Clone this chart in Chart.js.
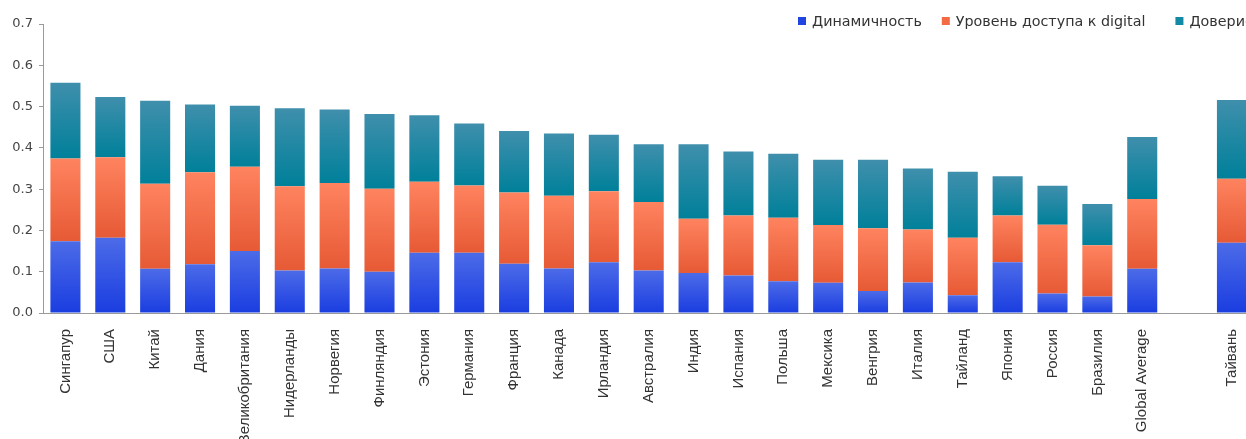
<!DOCTYPE html>
<html><head><meta charset="utf-8">
<script src="https://cdn.jsdelivr.net/npm/chart.js@4.4.1/dist/chart.umd.min.js"></script>
<style>html,body{margin:0;padding:0;overflow:hidden;background:#fff;width:1246px;height:439px}canvas{display:block}</style>
</head><body>
<canvas id="c" width="1258" height="439"></canvas>
<script>
const categories = ["Сингапур","США","Китай","Дания","Великобритания","Нидерланды","Норвегия","Финляндия","Эстония","Германия","Франция","Канада","Ирландия","Австралия","Индия","Испания","Польша","Мексика","Венгрия","Италия","Тайланд","Япония","Россия","Бразилия","Global Average","","Тайвань"];
const seriesNames = ["Динамичность","Уровень доступа к digital","Доверие"];
const dynamism = [0.174,0.182,0.107,0.118,0.150,0.103,0.108,0.100,0.146,0.146,0.119,0.108,0.123,0.103,0.097,0.091,0.077,0.073,0.053,0.074,0.043,0.123,0.047,0.040,0.107,null,0.170];
const access   = [0.200,0.195,0.206,0.223,0.204,0.204,0.207,0.201,0.172,0.163,0.173,0.176,0.172,0.166,0.131,0.145,0.154,0.140,0.152,0.128,0.139,0.113,0.167,0.124,0.169,null,0.155];
const trust    = [0.184,0.146,0.201,0.164,0.148,0.189,0.178,0.181,0.161,0.150,0.149,0.151,0.137,0.140,0.181,0.155,0.155,0.158,0.166,0.148,0.160,0.095,0.094,0.100,0.150,null,0.191];
const yTickValues = [0.0,0.1,0.2,0.3,0.4,0.5,0.6,0.7];

const seriesData = [dynamism, access, trust];
const palette = [
  {top:'#4c6be8', bottom:'#1a3de0', legend:'#2146e0'},
  {top:'#ff835f', bottom:'#e65a35', legend:'#f36a45'},
  {top:'#3f8fac', bottom:'#00809a', legend:'#138aa5'}
];

function gradientFill(si) {
  return function(ctx) {
    const c = palette[si];
    const chart = ctx.chart;
    if (!chart.chartArea || ctx.type !== 'data' || !chart.scales.y) return c.bottom;
    const i = ctx.dataIndex;
    let base = 0;
    for (let k = 0; k < si; k++) base += (seriesData[k][i] || 0);
    const v = seriesData[si][i] || 0;
    const yb = chart.scales.y.getPixelForValue(base);
    const yt = chart.scales.y.getPixelForValue(base + v);
    if (!isFinite(yb) || !isFinite(yt) || yb === yt) return c.bottom;
    const g = chart.ctx.createLinearGradient(0, yt, 0, yb);
    g.addColorStop(0, c.top);
    g.addColorStop(1, c.bottom);
    return g;
  };
}

const legendGaps = [20, 30, 0];
const legendPlugin = {
  id: 'topLegend',
  afterDraw(chart) {
    const ctx = chart.ctx;
    ctx.save();
    ctx.font = '14.3px "DejaVu Sans"';
    ctx.textBaseline = 'middle';
    ctx.textAlign = 'left';
    let x = 798; const y = 21;
    chart.data.datasets.forEach((ds, i) => {
      ctx.fillStyle = palette[i].legend;
      ctx.fillRect(x, y - 4, 8, 8);
      ctx.fillStyle = '#333';
      ctx.fillText(ds.label, x + 14, y + 1);
      x += 14 + ctx.measureText(ds.label).width + legendGaps[i];
    });
    ctx.restore();
  }
};

new Chart(document.getElementById('c'), {
  type: 'bar',
  data: {
    labels: categories,
    datasets: seriesData.map((d, i) => ({
      label: seriesNames[i],
      data: d,
      backgroundColor: gradientFill(i),
      borderWidth: 0,
      categoryPercentage: 1.0,
      barPercentage: 0.67
    }))
  },
  options: {
    responsive: false,
    animation: false,
    layout: {padding: {top: 24, left: 0, right: 2, bottom: 0}},
    plugins: {legend: {display: false}, tooltip: {enabled: false}},
    scales: {
      x: {
        stacked: true,
        offset: true,
        grid: {display: false},
        border: {display: true, color: '#9a9a9a', width: 1},
        ticks: {
          autoSkip: false, maxRotation: 90, minRotation: 90, padding: 8,
          color: '#333', font: {family: '"Liberation Sans", Arial', size: 15}
        },
        afterFit(s) { s.height = 126; }
      },
      y: {
        stacked: true,
        min: 0, max: 0.7,
        afterBuildTicks(s) { s.ticks = yTickValues.map(v => ({value: v})); },
        grid: {drawOnChartArea: false, drawTicks: true, tickLength: 4, color: '#9a9a9a'},
        border: {display: true, color: '#9a9a9a', width: 1},
        ticks: {
          padding: 6, color: '#444',
          font: {family: '"DejaVu Sans"', size: 13},
          callback: v => Number(v).toFixed(1)
        },
        afterFit(s) { s.width = 43; }
      }
    }
  },
  plugins: [legendPlugin]
});
</script>
</body></html>
